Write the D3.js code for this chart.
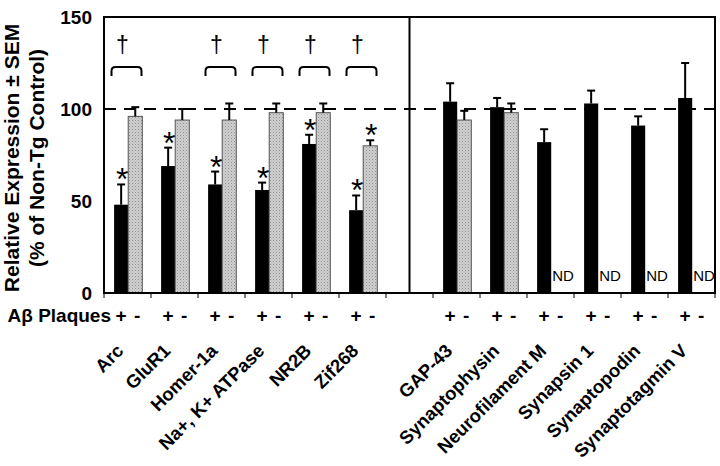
<!DOCTYPE html>
<html><head><meta charset="utf-8">
<script src="https://cdn.jsdelivr.net/npm/d3@7"></script>
<style>
html,body{margin:0;padding:0;background:#fff;}
text{font-family:"Liberation Sans",Arial,sans-serif;}
</style></head>
<body><svg id="chart" width="720" height="466"></svg>
<script>
// ---- data ----
const categories = ["Arc","GluR1","Homer-1a","Na+, K+ ATPase","NR2B","Zif268"," ",
  "GAP-43","Synaptophysin","Neurofilament M","Synapsin 1","Synaptopodin","Synaptotagmin V"];
const plusValues  = [48, 69, 59, 56, 81, 45, null, 104, 101, 82, 103, 91, 106];
const plusErr     = [11, 10, 7, 4, 5, 8, null, 10, 5, 7, 7, 5, 19];
const minusValues = [96, 94, 94, 98, 98, 80, null, 94, 98, null, null, null, null];
const minusErr    = [5, 6, 9, 5, 5, 3, null, 5, 5, null, null, null, null];
const plusStar    = [true, true, true, true, true, true, false, false, false, false, false, false, false];
const minusStar   = [false, false, false, false, false, true, false, false, false, false, false, false, false];
const dagger      = [true, false, true, true, true, true, false, false, false, false, false, false, false];
const yTicks = [0, 50, 100, 150];
const refValue = 100;
const yTitle = ["Relative Expression ± SEM", "(% of Non-Tg Control)"];
const plaqueLabel = "Aβ Plaques";

// ---- layout ----
const svg = d3.select("#chart");
const pLeft = 104, pRight = 715, pTop = 17, pBottom = 293;
const x = d3.scaleBand().domain(categories).range([pLeft, pRight]).paddingInner(0).paddingOuter(0);
const y = d3.scaleLinear().domain([0, 150]).range([pBottom, pTop]);
const bw = x.bandwidth();
const barW = bw * 0.3;
const bx = c => x(c) + bw * 0.215;

// pattern for gray bars
const defs = svg.append("defs");
const pat = defs.append("pattern").attr("id","stip").attr("patternUnits","userSpaceOnUse")
  .attr("width",3).attr("height",3);
pat.append("rect").attr("width",3).attr("height",3).attr("fill","#d0d0d0");
pat.append("rect").attr("x",0).attr("y",0).attr("width",1).attr("height",1).attr("fill","#909090");
pat.append("rect").attr("x",1.5).attr("y",1.5).attr("width",1).attr("height",1).attr("fill","#a8a8a8");

const data = categories.map((c,i)=>({c, i, p:plusValues[i], pe:plusErr[i], m:minusValues[i], me:minusErr[i]}));

// reference dashed line
svg.append("line").attr("x1",pLeft).attr("x2",pRight).attr("y1",y(refValue)).attr("y2",y(refValue))
  .attr("stroke","#000").attr("stroke-width",2).attr("stroke-dasharray","12,8");

// bars plus
svg.append("g").selectAll("rect").data(data.filter(d=>d.p!=null)).join("rect")
  .attr("x",d=>bx(d.c)).attr("width",barW)
  .attr("y",d=>y(d.p)).attr("height",d=>y(0)-y(d.p)).attr("fill","#000");
// bars minus
svg.append("g").selectAll("rect").data(data.filter(d=>d.m!=null)).join("rect")
  .attr("x",d=>bx(d.c)+barW).attr("width",barW)
  .attr("y",d=>y(d.m)).attr("height",d=>y(0)-y(d.m)).attr("fill","url(#stip)")
  .attr("stroke","#555").attr("stroke-width",1);

// error bars
function errBars(list, valKey, errKey, off){
  const g = svg.append("g").attr("stroke","#000").attr("stroke-width",2);
  list.forEach(d=>{
    const cx = bx(d.c) + off + barW/2;
    g.append("line").attr("x1",cx).attr("x2",cx).attr("y1",y(d[valKey])).attr("y2",y(d[valKey]+d[errKey]));
    g.append("line").attr("x1",cx-4).attr("x2",cx+4).attr("y1",y(d[valKey]+d[errKey])).attr("y2",y(d[valKey]+d[errKey]));
  });
}
errBars(data.filter(d=>d.p!=null),"p","pe",0);
errBars(data.filter(d=>d.m!=null),"m","me",barW);

// stars
data.forEach(d=>{
  if(plusStar[d.i]) svg.append("text").attr("x",bx(d.c)+barW/2+1).attr("y",y(d.p+d.pe)+6)
    .attr("text-anchor","middle").attr("font-size",32).text("*");
  if(minusStar[d.i]) svg.append("text").attr("x",bx(d.c)+barW*1.5+1).attr("y",y(d.m+d.me)+6)
    .attr("text-anchor","middle").attr("font-size",32).text("*");
});

// ND labels
data.forEach(d=>{
  if(d.p!=null && d.m==null) svg.append("text").attr("x",bx(d.c)+barW+1).attr("y",pBottom-12)
    .attr("font-size",15).text("ND");
});

// daggers and brackets
data.forEach(d=>{
  if(!dagger[d.i]) return;
  const c = x(d.c)+bw/2 - 1;
  svg.append("text").attr("x",c-4).attr("y",53).attr("text-anchor","middle").attr("font-size",23).text("†");
  const x1=c-15, x2=c+15, yb=67, ye=76;
  svg.append("path").attr("d",`M${x1},${ye} L${x1},${yb+4} Q${x1},${yb} ${x1+4},${yb} L${x2-4},${yb} Q${x2},${yb} ${x2},${yb+4} L${x2},${ye}`)
    .attr("fill","none").attr("stroke","#000").attr("stroke-width",2);
});

// frame
svg.append("rect").attr("x",pLeft).attr("y",pTop).attr("width",pRight-pLeft).attr("height",pBottom-pTop)
  .attr("fill","none").attr("stroke","#000").attr("stroke-width",2);
// divider
const gapKey = categories[6];
svg.append("line").attr("x1",x(gapKey)+bw/2).attr("x2",x(gapKey)+bw/2).attr("y1",pTop).attr("y2",pBottom)
  .attr("stroke","#000").attr("stroke-width",2);

// bottom boundary ticks
const bounds = categories.map(c=>x(c)).concat([pRight]);
svg.append("g").selectAll("line").data(bounds).join("line")
  .attr("x1",d=>d).attr("x2",d=>d).attr("y1",pBottom).attr("y2",pBottom+5)
  .attr("stroke","#000").attr("stroke-width",1);

// y axis
const yAxis = svg.append("g").attr("transform",`translate(${pLeft-12},0)`)
  .call(d3.axisLeft(y).tickValues(yTicks).tickSize(0).tickPadding(0));
yAxis.select(".domain").remove();
yAxis.selectAll("text").attr("font-size",19).attr("font-weight","bold")
  .attr("font-family","'Liberation Sans',Arial,sans-serif").attr("fill","#000");

// y title
const yt = svg.append("text").attr("transform","translate(19,158) rotate(-90)")
  .attr("text-anchor","middle").attr("font-size",21).attr("font-weight","bold");
yt.append("tspan").attr("x",0).attr("y",0).text(yTitle[0]);
yt.append("tspan").attr("x",0).attr("y",25).text(yTitle[1]);

// plaque row
svg.append("text").attr("x",111).attr("y",322).attr("text-anchor","end")
  .attr("font-size",19).attr("font-weight","bold").text(plaqueLabel);
data.forEach(d=>{
  if(d.p==null) return;
  svg.append("text").attr("x",bx(d.c)+barW/2).attr("y",322).attr("text-anchor","middle")
    .attr("font-size",19).attr("font-weight","bold").text("+");
  svg.append("text").attr("x",bx(d.c)+barW*1.5+2).attr("y",322).attr("text-anchor","middle")
    .attr("font-size",19).attr("font-weight","bold").text("-");
});

// category labels
data.forEach(d=>{
  if(d.p==null) return;
  const ax = x(d.c)+bw/2-3, ay = 352;
  svg.append("text").attr("transform",`translate(${ax},${ay}) rotate(-45)`)
    .attr("text-anchor","end").attr("font-size",18.5).attr("font-weight","bold").text(d.c);
});
</script></body></html>
